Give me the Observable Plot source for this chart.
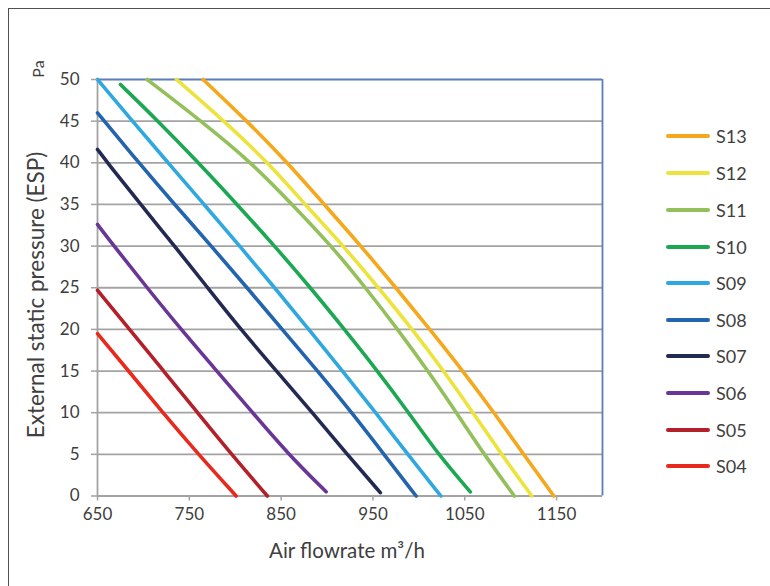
<!DOCTYPE html>
<html>
<head>
<meta charset="utf-8">
<script src="https://cdn.jsdelivr.net/npm/d3@7"></script>
<script src="https://cdn.jsdelivr.net/npm/@observablehq/plot@0.6"></script>
<style>
  html, body { margin: 0; padding: 0; background: #fff; }
  #wrap { position: relative; width: 770px; height: 586px; overflow: hidden; font-family: Lato, "Open Sans", sans-serif; color: #404040; }
  #frame { position: absolute; left: 8px; top: 8px; width: 800px; height: 600px; border-top: 1.6px solid #505050; border-left: 1.6px solid #505050; }
  #chart { position: absolute; left: 0; top: 0; }
  .ytitle { position: absolute; left: 35px; top: 295px; transform: translate(-50%, -50%) rotate(-90deg); font-size: 22.5px; white-space: nowrap; }
  .unit { position: absolute; left: 37px; top: 69px; transform: translate(-50%, -50%) rotate(-90deg); font-size: 16px; white-space: nowrap; }
  .xtitle { position: absolute; left: 347px; top: 550px; transform: translate(-50%, -50%); font-size: 20.5px; white-space: nowrap; }
  .leg { position: absolute; left: 666px; height: 20px; display: flex; align-items: center; transform: translateY(-50%); }
  .leg .sw { width: 44px; height: 4px; border-radius: 2px; margin-right: 6px; }
  .leg span { font-size: 18px; }
</style>
</head>
<body>
<div id="wrap">
  <div id="frame"></div>
  <div id="chart"></div>
  <div class="unit">Pa</div>
  <div class="ytitle">External static pressure (ESP)</div>
  <div class="xtitle">Air flowrate m³/h</div>
  <div id="legend"></div>
</div>
<script>
// ---- data (x = air flowrate m3/h, y = ESP Pa) ----
const seriesNames = ["S13", "S12", "S11", "S10", "S09", "S08", "S07", "S06", "S05", "S04"];
const seriesColors = ["#f5a81c", "#ece43c", "#93c05b", "#1ca853", "#2fa8df", "#2364ae", "#232a52", "#6a3695", "#b3202a", "#e8291d"];

const S13 = [[765,50],[813,45],[857,40],[897,35],[937,30],[975,25],[1012,20],[1048,15],[1082,10],[1114,5],[1147,0]];
const S12 = [[736,50],[788,45],[836,40],[876,35],[918,30],[956,25],[993,20],[1027,15],[1059,10],[1090,5],[1123,0]];
const S11 = [[704,50],[763,45],[818,40],[862,35],[905,30],[942,25],[977,20],[1010,15],[1041,10],[1071,5],[1104,0]];
const S10 = [[675,49.4],[716,45],[760,40],[802,35],[843,30],[882,25],[919,20],[955,15],[989,10],[1021,5],[1056,0.5]];
const S09 = [[650,50],[688,45],[727,40],[766,35],[805,30],[843,25],[880,20],[917,15],[953,10],[988,5],[1024,0]];
const S08 = [[650,46],[695,40],[734,35],[774,30],[813,25],[851,20],[890,15],[927,10],[962,5],[997,0]];
const S07 = [[650,41.6],[661,40],[697,35],[734,30],[770,25],[806,20],[845,15],[884,10],[922,5],[958,0.4]];
const S06 = [[650,32.6],[668,30],[704,25],[741,20],[780,15],[819,10],[858,5],[899,0.5]];
const S05 = [[650,24.7],[685,20],[722,15],[759,10],[796,5],[835,0]];
const S04 = [[650,19.5],[684,15],[721,10],[760,5],[801,0]];
const seriesValues = [S13, S12, S11, S10, S09, S08, S07, S06, S05, S04];

const xTicks = [650, 750, 850, 950, 1050, 1150];
const yTicks = [0, 5, 10, 15, 20, 25, 30, 35, 40, 45, 50];

const rows = seriesNames.flatMap((name, i) => seriesValues[i].map(([x, y]) => ({series: name, x, y})));

const chart = Plot.plot({
  width: 770,
  height: 586,
  marginLeft: 97,
  marginRight: 168,
  marginTop: 79,
  marginBottom: 90.5,
  style: {fontFamily: "Lato, 'Open Sans', sans-serif", fontSize: "17px", color: "#3d3d3d", background: "transparent", overflow: "visible"},
  x: {domain: [650, 1200]},
  y: {domain: [0, 50]},
  color: {domain: seriesNames, range: seriesColors},
  marks: [
    Plot.ruleY(yTicks.filter(v => v > 0 && v < 50), {stroke: "#a3a3a3", strokeWidth: 1.8}),
    Plot.ruleY([50], {stroke: "#5b7dba", strokeWidth: 1.8}),
    Plot.ruleX([1200], {stroke: "#5b7dba", strokeWidth: 1.8}),
    Plot.ruleX([650], {stroke: "#a3a3a3", strokeWidth: 1.8}),
    Plot.ruleY([0], {stroke: "#a3a3a3", strokeWidth: 1.8}),
    Plot.line(rows, {x: "x", y: "y", z: "series", stroke: "series", strokeWidth: 3.6, strokeLinecap: "round", strokeLinejoin: "round", curve: "basis"}),
    Plot.axisX({ticks: xTicks, tickFormat: d => String(d), tickSize: 5, tickPadding: 7, stroke: "#a3a3a3", strokeWidth: 1.5, label: null, fontSize: 17}),
    Plot.axisY({ticks: yTicks, tickFormat: d => String(d), tickSize: 6, tickPadding: 12, stroke: "#a3a3a3", strokeWidth: 1.5, label: null, fontSize: 17})
  ]
});
document.getElementById("chart").appendChild(chart);

// legend
const legendTops = [136, 173, 209.5, 246.5, 283, 320, 356, 393, 429.5, 466];
const legend = d3.select("#legend");
seriesNames.forEach((name, i) => {
  const row = legend.append("div").attr("class", "leg").style("top", legendTops[i] + "px");
  row.append("div").attr("class", "sw").style("background", seriesColors[i]);
  row.append("span").text(name);
});
</script>
</body>
</html>
